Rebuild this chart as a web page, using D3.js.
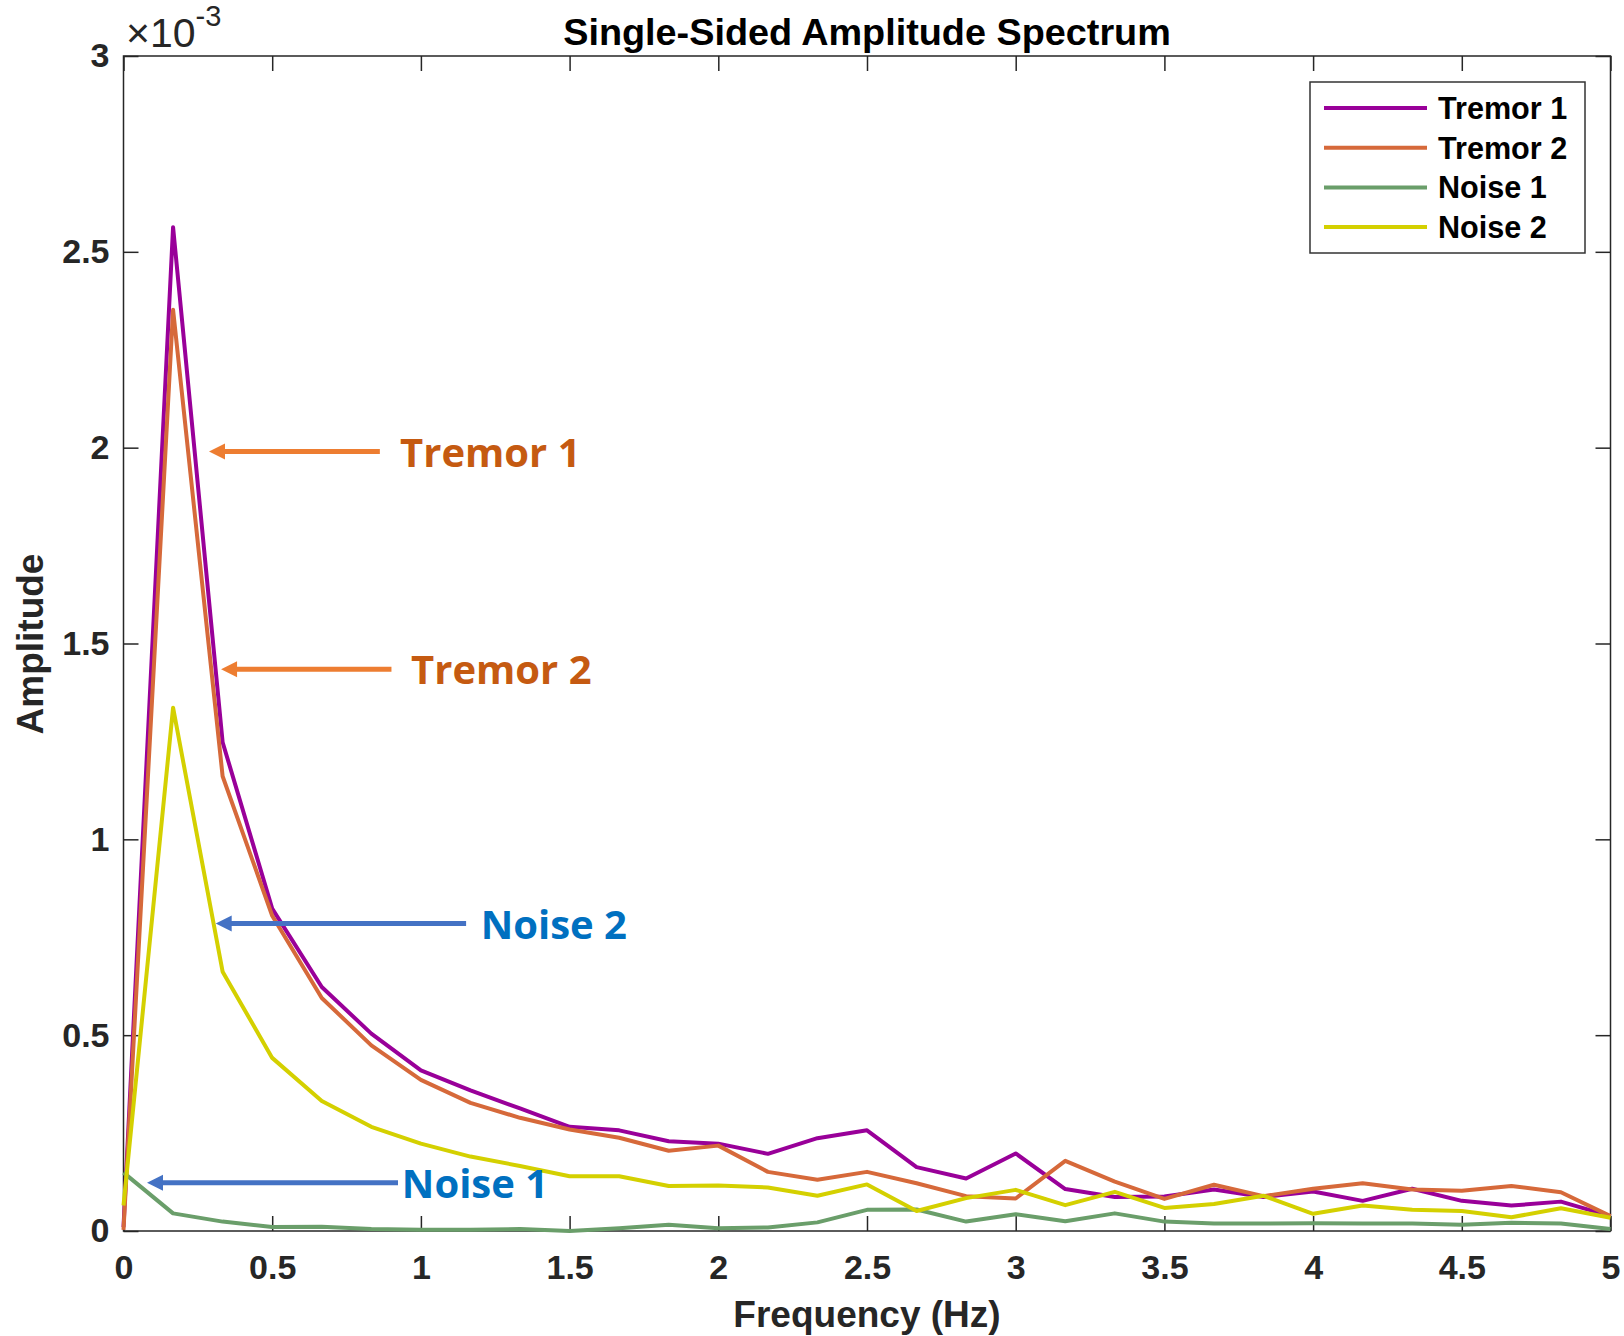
<!DOCTYPE html>
<html>
<head>
<meta charset="utf-8">
<script src="https://cdn.jsdelivr.net/npm/d3@7"></script>
<style>
    body { margin: 0; background: #fff; }
    text { font-family: "Liberation Sans", Arial, sans-serif; }
</style>
</head>
<body>
<div id="chart"></div>
<script>

// Frequency bins (Hz)
const freqs = [0, 0.1667, 0.3333, 0.5, 0.6667, 0.8333, 1, 1.1667, 1.3333, 1.5, 1.6667,
    1.8333, 2, 2.1667, 2.3333, 2.5, 2.6667, 2.8333, 3, 3.1667, 3.3333,
    3.5, 3.6667, 3.8333, 4, 4.1667, 4.3333, 4.5, 4.6667, 4.8333, 5];

// Amplitudes, in units of 1e-3
const tremor1 = [0.01, 2.563, 1.248, 0.823, 0.623, 0.504, 0.410, 0.359, 0.313, 0.266, 0.257,
    0.229, 0.223, 0.197, 0.237, 0.257, 0.163, 0.134, 0.198, 0.107, 0.087,
    0.088, 0.106, 0.087, 0.101, 0.077, 0.108, 0.077, 0.065, 0.075, 0.038];
const tremor2 = [0.003, 2.352, 1.161, 0.805, 0.595, 0.474, 0.386, 0.327, 0.289, 0.259, 0.238,
    0.205, 0.218, 0.151, 0.131, 0.151, 0.122, 0.089, 0.083, 0.179, 0.126,
    0.082, 0.118, 0.089, 0.108, 0.122, 0.106, 0.103, 0.115, 0.099, 0.038];
const noise1 = [0.149, 0.045, 0.024, 0.010, 0.011, 0.005, 0.003, 0.003, 0.005, 0.0, 0.007,
    0.016, 0.007, 0.009, 0.022, 0.054, 0.055, 0.024, 0.043, 0.025, 0.045,
    0.024, 0.019, 0.019, 0.020, 0.019, 0.019, 0.016, 0.021, 0.019, 0.005];
const noise2 = [0.065, 1.336, 0.662, 0.442, 0.332, 0.266, 0.223, 0.190, 0.166, 0.140, 0.140,
    0.115, 0.116, 0.111, 0.090, 0.119, 0.051, 0.084, 0.105, 0.066, 0.100,
    0.059, 0.069, 0.090, 0.044, 0.065, 0.054, 0.051, 0.035, 0.058, 0.034];

const seriesNames = ["Tremor 1", "Tremor 2", "Noise 1", "Noise 2"];
const seriesColors = ["#990099", "#D6693A", "#6A9E6A", "#D4D000"];

const xTicks = [0, 0.5, 1, 1.5, 2, 2.5, 3, 3.5, 4, 4.5, 5];
const yTicks = [0, 0.5, 1, 1.5, 2, 2.5, 3];

// Callouts pasted on the figure (data coordinates)
const calloutLabels = ["Tremor 1", "Tremor 2", "Noise 2", "Noise 1"];
const calloutTips = [[0.2875, 1.99], [0.328, 1.434], [0.31, 0.785], [0.079, 0.123]];
const calloutTails = [0.862, 0.901, 1.152, 0.923];
const calloutTextX = [0.930, 0.967, 1.201, 0.936];


class SpectrumChart {
    constructor(parentElement) {
        this.parentElement = parentElement;
        this.series = seriesNames.map((name, i) => {
            return { name: name, values: [tremor1, tremor2, noise1, noise2][i], color: seriesColors[i] };
        });
        this.initVis();
    }

    initVis() {
        let vis = this;

        vis.margin = {top: 56, right: 13.5, bottom: 105, left: 123.5};
        vis.width = 1624 - vis.margin.left - vis.margin.right;
        vis.height = 1336 - vis.margin.top - vis.margin.bottom;

        vis.root = d3.select("#" + vis.parentElement).append("svg")
            .attr("width", 1624)
            .attr("height", 1336);

        vis.svg = vis.root.append("g")
            .attr("transform", `translate(${vis.margin.left}, ${vis.margin.top})`);

        // Scales
        vis.x = d3.scaleLinear().domain([0, 5]).range([0, vis.width]);
        vis.y = d3.scaleLinear().domain([0, 3]).range([vis.height, 0]);

        // Axes, ticks pointing inward like MATLAB
        let fmt = d3.format("~g");
        vis.xAxis = d3.axisBottom(vis.x).tickValues(xTicks).tickFormat(fmt)
            .tickSizeInner(-15).tickSizeOuter(0).tickPadding(24);
        vis.yAxis = d3.axisLeft(vis.y).tickValues(yTicks).tickFormat(fmt)
            .tickSizeInner(-15).tickSizeOuter(0).tickPadding(14);
        vis.xTop = d3.axisTop(vis.x).tickValues(xTicks).tickFormat("")
            .tickSizeInner(-15).tickSizeOuter(0);
        vis.yRight = d3.axisRight(vis.y).tickValues(yTicks).tickFormat("")
            .tickSizeInner(-15).tickSizeOuter(0);

        vis.svg.append("g").attr("class", "x-axis axis")
            .attr("transform", `translate(0, ${vis.height})`).call(vis.xAxis);
        vis.svg.append("g").attr("class", "y-axis axis").call(vis.yAxis);
        vis.svg.append("g").attr("class", "axis").call(vis.xTop);
        vis.svg.append("g").attr("class", "axis")
            .attr("transform", `translate(${vis.width}, 0)`).call(vis.yRight);

        vis.svg.selectAll(".axis .domain").remove();
        vis.svg.selectAll(".axis line").attr("stroke", "#262626").attr("stroke-width", 1.5);
        vis.svg.selectAll(".axis text")
            .attr("fill", "#262626")
            .style("font-size", "34px")
            .style("font-weight", "bold");

        // Box
        vis.svg.append("rect")
            .attr("width", vis.width)
            .attr("height", vis.height)
            .attr("fill", "none")
            .attr("stroke", "#262626")
            .attr("stroke-width", 1.5);

        // Exponent label
        let expo = vis.root.append("text")
            .attr("x", 126)
            .attr("y", 47)
            .attr("fill", "#262626")
            .style("font-size", "41px");
        expo.append("tspan").text("\u00d710");
        expo.append("tspan").attr("dy", -21).style("font-size", "29px").text("-3");

        // Title and axis labels
        vis.root.append("text")
            .attr("x", vis.margin.left + vis.width / 2)
            .attr("y", 45)
            .attr("text-anchor", "middle")
            .style("font-size", "37.8px")
            .style("font-weight", "bold")
            .text("Single-Sided Amplitude Spectrum");

        vis.root.append("text")
            .attr("x", vis.margin.left + vis.width / 2)
            .attr("y", 1327)
            .attr("text-anchor", "middle")
            .attr("fill", "#262626")
            .style("font-size", "37px")
            .style("font-weight", "bold")
            .text("Frequency (Hz)");

        vis.root.append("text")
            .attr("transform", `translate(43, 644) rotate(-90)`)
            .attr("text-anchor", "middle")
            .attr("fill", "#262626")
            .style("font-size", "37px")
            .style("font-weight", "bold")
            .text("Amplitude");

        vis.updateVis();
    }

    updateVis() {
        let vis = this;

        let line = d3.line()
            .x((d, i) => vis.x(freqs[i]))
            .y(d => vis.y(d));

        vis.svg.selectAll(".spectrum-line")
            .data(vis.series)
            .enter()
            .append("path")
            .attr("class", "spectrum-line")
            .attr("d", d => line(d.values))
            .attr("fill", "none")
            .attr("stroke", d => d.color)
            .attr("stroke-width", 4)
            .attr("stroke-linejoin", "round");

        // Legend
        let lg = vis.root.append("g").attr("transform", "translate(1310, 82)");
        lg.append("rect")
            .attr("width", 275)
            .attr("height", 171)
            .attr("fill", "#fff")
            .attr("stroke", "#333")
            .attr("stroke-width", 1.5);

        let rows = lg.selectAll(".legend-row")
            .data(vis.series)
            .enter()
            .append("g")
            .attr("class", "legend-row")
            .attr("transform", (d, i) => `translate(0, ${26 + i * 39.7})`);
        rows.append("line")
            .attr("x1", 14).attr("x2", 117)
            .attr("stroke", d => d.color)
            .attr("stroke-width", 4);
        rows.append("text")
            .attr("x", 128)
            .attr("y", 11)
            .style("font-size", "30.6px")
            .style("font-weight", "bold")
            .text(d => d.name);

        // Callout arrows and labels
        let callouts = calloutLabels.map((label, i) => {
            return { label: label, tip: calloutTips[i], tail: calloutTails[i], textX: calloutTextX[i],
                isTremor: label.startsWith("Tremor") };
        });

        let cg = vis.svg.selectAll(".callout")
            .data(callouts)
            .enter()
            .append("g")
            .attr("class", "callout");

        cg.append("line")
            .attr("x1", d => vis.x(d.tip[0]) + 12)
            .attr("x2", d => vis.x(d.tail))
            .attr("y1", d => vis.y(d.tip[1]))
            .attr("y2", d => vis.y(d.tip[1]))
            .attr("stroke", d => d.isTremor ? "#ED7D31" : "#4472C4")
            .attr("stroke-width", 5);

        cg.append("path")
            .attr("d", d => {
                let tx = vis.x(d.tip[0]), ty = vis.y(d.tip[1]);
                return `M${tx},${ty} L${tx + 16},${ty - 8} L${tx + 16},${ty + 8} Z`;
            })
            .attr("fill", d => d.isTremor ? "#ED7D31" : "#4472C4");

        cg.append("text")
            .attr("x", d => vis.x(d.textX))
            .attr("y", d => vis.y(d.tip[1]) + 15)
            .attr("fill", d => d.isTremor ? "#C55A11" : "#0070C0")
            .style("font-family", "'Open Sans', sans-serif")
            .style("font-size", "40px")
            .style("font-weight", "bold")
            .text(d => d.label);
    }
}

let spectrumChart = new SpectrumChart("chart");
</script>
</body>
</html>
